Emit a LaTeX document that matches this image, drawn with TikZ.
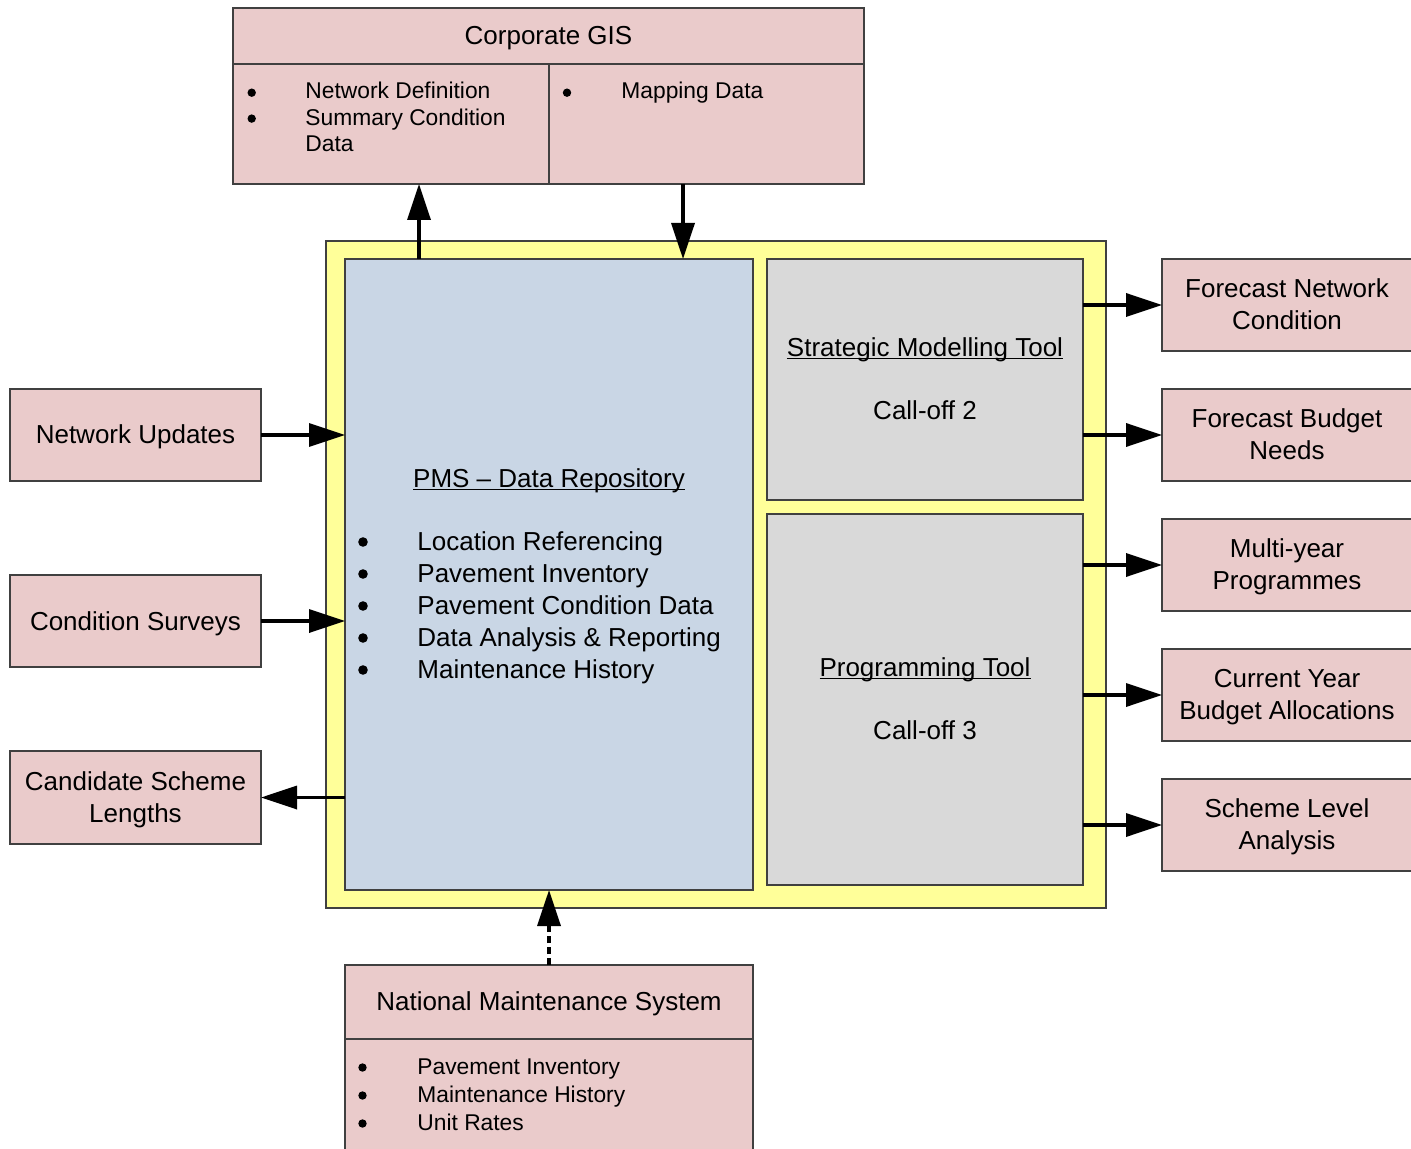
\documentclass[tikz,border=0pt]{standalone}
\usepackage{fontspec}
\setmainfont{Liberation Sans}
\usetikzlibrary{arrows.meta}
\definecolor{pinkf}{RGB}{234,203,203}
\definecolor{yellowf}{RGB}{255,255,153}
\definecolor{bluef}{RGB}{201,214,229}
\definecolor{grayf}{RGB}{217,217,217}
\newcommand\mainf{\fontsize{13}{16}\selectfont}
\newcommand\smallf{\fontsize{11.4}{13.5}\selectfont}
\newcommand\myul[1]{\setbox0=\hbox{#1}\rlap{\rule[-1.3pt]{\wd0}{0.65pt}}\box0}
\begin{document}
\begin{tikzpicture}[x=0.5pt,y=-0.5pt,
  boxs/.style={draw=black!75, line width=0.55pt, inner sep=0pt, outer sep=0pt, anchor=north west},
  pinkbox/.style={boxs, fill=pinkf},
  txt/.style={font=\mainf, inner sep=0pt, anchor=base},
  ltxt/.style={font=\mainf, inner sep=0pt, anchor=base west},
  stxt/.style={font=\smallf, inner sep=0pt, anchor=base west},
  arr/.style={line width=1.75pt, -{Triangle[length=18pt,width=11.5pt]}},
  bul/.style={fill=black}]
\clip (0,0) rectangle (1411,1149);
\fill[white] (0,0) rectangle (1411,1149);

% Corporate GIS
\node[pinkbox, minimum width=315.5pt, minimum height=88pt] (GIS) at (233,8) {};
\draw[draw=black!75, line width=0.55pt] (GIS.west |- 0,64) -- (GIS.east |- 0,64);
\draw[draw=black!75, line width=0.55pt] (549,64) -- (GIS.south -| 549,0);
\node[txt] (gisT) at (548.5,44.5) {Corporate GIS};
\node[stxt] (gis1) at (305,99) {Network Definition};
\node[stxt] (gis2) at (305,125.5) {Summary Condition};
\node[stxt] (gis3) at (305,152) {Data};
\node[stxt] (gis4) at (621,99) {Mapping Data};
\fill[bul] (251.7,92.7) circle[radius=2.1pt];
\fill[bul] (251.7,118.6) circle[radius=2.1pt];
\fill[bul] (567,92.7) circle[radius=2.1pt];

% Yellow container
\node[boxs, fill=yellowf, minimum width=390pt, minimum height=333.5pt] (Y) at (326,241) {};
\node[boxs, fill=bluef, minimum width=204pt, minimum height=315.5pt] (PMS) at (345,259) {};
\node[boxs, fill=grayf, minimum width=158pt, minimum height=120.5pt] (SMT) at (767,259) {};
\node[boxs, fill=grayf, minimum width=158pt, minimum height=185.5pt] (PT) at (767,514) {};

\node[txt] (pmsT) at (549,487.5) {\myul{PMS – Data Repository}};
\node[ltxt] (pms1) at (417,550.5) {Location Referencing};
\node[ltxt] (pms2) at (417,582.5) {Pavement Inventory};
\node[ltxt] (pms3) at (417,614.5) {Pavement Condition Data};
\node[ltxt] (pms4) at (417,646.5) {Data Analysis \& Reporting};
\node[ltxt] (pms5) at (417,678.5) {Maintenance History};
\foreach \yy in {542,574,606,638,670} \fill[bul] (363,\yy) circle[radius=2.4pt];

\node[txt] (smtT) at (925,356.5) {\myul{Strategic Modelling Tool}};
\node[txt] (smtC) at (925,419.5) {Call-off 2};
\node[txt] (ptT) at (925,676.5) {\myul{Programming Tool}};
\node[txt] (ptC) at (925,739.5) {Call-off 3};

% Left boxes
\node[pinkbox, minimum width=125.5pt, minimum height=46pt] (NU) at (10,389) {};
\node[txt] (nuT) at (135.5,444) {Network Updates};
\node[pinkbox, minimum width=125.5pt, minimum height=46pt] (CS) at (10,575) {};
\node[txt] (csT) at (135.5,630) {Condition Surveys};
\node[pinkbox, minimum width=125.5pt, minimum height=46.5pt] (CSL) at (10,751) {};
\node[txt] (cslT1) at (135.5,790.5) {Candidate Scheme};
\node[txt] (cslT2) at (135.5,822.5) {Lengths};

% Right boxes
\node[pinkbox, minimum width=125pt, minimum height=46pt] (R1) at (1162,259) {};
\node[txt] (r1a) at (1287,297.5) {Forecast Network};
\node[txt] (r1b) at (1287,329.5) {Condition};
\node[pinkbox, minimum width=125pt, minimum height=46pt] (R2) at (1162,389) {};
\node[txt] (r2a) at (1287,427.5) {Forecast Budget};
\node[txt] (r2b) at (1287,459.5) {Needs};
\node[pinkbox, minimum width=125pt, minimum height=46pt] (R3) at (1162,519) {};
\node[txt] (r3a) at (1287,557.5) {Multi-year};
\node[txt] (r3b) at (1287,589.5) {Programmes};
\node[pinkbox, minimum width=125pt, minimum height=46pt] (R4) at (1162,649) {};
\node[txt] (r4a) at (1287,687.5) {Current Year};
\node[txt] (r4b) at (1287,719.5) {Budget Allocations};
\node[pinkbox, minimum width=125pt, minimum height=46pt] (R5) at (1162,779) {};
\node[txt] (r5a) at (1287,817.5) {Scheme Level};
\node[txt] (r5b) at (1287,849.5) {Analysis};

% National Maintenance System
\node[pinkbox, minimum width=204pt, minimum height=100pt] (NMS) at (345,965) {};
\draw[draw=black!75, line width=0.55pt] (NMS.west |- 0,1039) -- (NMS.east |- 0,1039);
\node[txt] (nmsT) at (549,1010) {National Maintenance System};
\node[stxt] (nms1) at (417,1074) {Pavement Inventory};
\node[stxt] (nms2) at (417,1102) {Maintenance History};
\node[stxt] (nms3) at (417,1130) {Unit Rates};
\foreach \yy in {1067.5,1095.5,1123.5} \fill[bul] (362.5,\yy) circle[radius=2.1pt];

% Connectors
\draw[arr] ([xshift=37pt]PMS.north west) -- ([xshift=37pt]PMS.north west |- GIS.south);
\draw[arr] ([xshift=169pt]PMS.north west |- GIS.south) -- ([xshift=169pt]PMS.north west);
\draw[arr] (NU.east) -- (NU.east -| PMS.west);
\draw[arr] (CS.east) -- (CS.east -| PMS.west);
\draw[arr] (CSL.east -| PMS.west) -- (CSL.east);
\draw[arr] (R1.west -| SMT.east) -- (R1.west);
\draw[arr] (R2.west -| SMT.east) -- (R2.west);
\draw[arr] (R3.west -| PT.east) -- (R3.west);
\draw[arr] (R4.west -| PT.east) -- (R4.west);
\draw[arr] (R5.west -| PT.east) -- (R5.west);
\draw[arr, dash pattern=on 3.5pt off 2pt] (NMS.north) -- (NMS.north |- PMS.south);
\end{tikzpicture}
\end{document}
